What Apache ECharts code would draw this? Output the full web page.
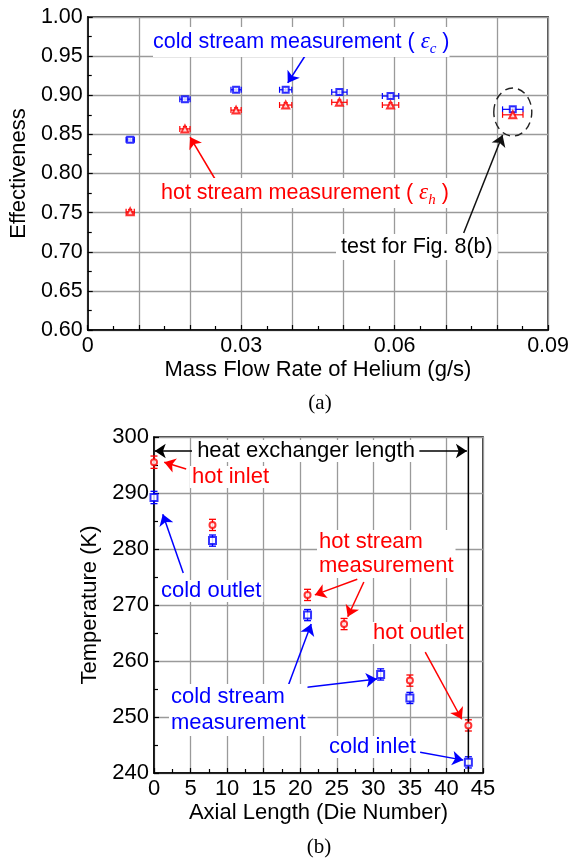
<!DOCTYPE html>
<html>
<head>
<meta charset="utf-8">
<script src="https://cdn.jsdelivr.net/npm/echarts@6/dist/echarts.min.js"></script>
<style>
  html, body { margin: 0; padding: 0; background: #fff; }
  #chart { width: 572px; height: 859px; }
</style>
</head>
<body>
<div id="chart"></div>
<script>
// ---- (a) effectiveness vs mass flow rate ----
const flowRate = [0.0083, 0.019, 0.029, 0.0387, 0.0492, 0.0592, 0.0831];
const flowErr = [0.0008, 0.001, 0.001, 0.0012, 0.0015, 0.0016, 0.002];
const effCold = [0.843, 0.895, 0.907, 0.907, 0.904, 0.899, 0.882];
const effHot = [0.751, 0.857, 0.881, 0.8875, 0.891, 0.8875, 0.875];
const effErr = [0.003, 0.003, 0.003, 0.003, 0.003, 0.003, 0.003];
const effTicks = [0.6, 1.0, 0.05];
const flowTicks = [0, 0.09, 0.01];

// ---- (b) temperature profile ----
const dieHot = [0, 8, 21, 26, 35, 43];
const tempHot = [295.5, 284.3, 271.8, 266.6, 256.5, 248.5];
const errHot = [1.1, 1.0, 1.0, 1.0, 1.0, 1.0];
const dieCold = [0, 8, 21, 31, 35, 43];
const tempCold = [289.2, 281.5, 268.2, 257.6, 253.4, 241.9];
const errCold = [1.1, 1.0, 1.0, 1.0, 1.0, 1.0];
const exchangerEnd = 43;
const tempTicks = [240, 300, 10];
const dieTicks = [0, 45, 5];

const BLUE = '#0000ff';
const RED = '#ff0000';
const SANS = 'Liberation Sans, Arial, sans-serif';
const SERIF = 'Liberation Serif, Times New Roman, serif';

const chart = echarts.init(document.getElementById('chart'));

function axisBase(fs) {
    return {
        type: 'value',
        axisLine: { show: true, onZero: false, lineStyle: { color: '#000', width: 1.5 } },
        axisTick: { show: true, inside: true, length: 5, lineStyle: { color: '#000', width: 1.2 } },
        minorTick: { show: true, splitNumber: 2, length: 4, lineStyle: { color: '#000', width: 1.2 } },
        splitLine: { show: true, lineStyle: { color: '#9a9a9a', width: 1.3 } },
        axisLabel: { color: '#000', fontSize: fs, fontFamily: SANS, margin: 5 },
        nameLocation: 'middle',
        nameTextStyle: { color: '#000', fontSize: 22, fontFamily: SANS }
    };
}

// error bars, horizontal + small vertical
function errorBarsA(params, api) {
    const x = api.value(0), y = api.value(1), dx = api.value(2), dy = api.value(3);
    const l = api.coord([x - dx, y]), r = api.coord([x + dx, y]);
    const b = api.coord([x, y - dy]), t = api.coord([x, y + dy]);
    const c = 3;
    const style = { stroke: api.visual('color'), lineWidth: 1.2, fill: null };
    return {
        type: 'group',
        children: [
            { type: 'line', shape: { x1: l[0], y1: l[1], x2: r[0], y2: r[1] }, style },
            { type: 'line', shape: { x1: l[0], y1: l[1] - c, x2: l[0], y2: l[1] + c }, style },
            { type: 'line', shape: { x1: r[0], y1: r[1] - c, x2: r[0], y2: r[1] + c }, style },
            { type: 'line', shape: { x1: b[0], y1: b[1], x2: t[0], y2: t[1] }, style },
            { type: 'line', shape: { x1: b[0] - 2, y1: b[1], x2: b[0] + 2, y2: b[1] }, style },
            { type: 'line', shape: { x1: t[0] - 2, y1: t[1], x2: t[0] + 2, y2: t[1] }, style }
        ]
    };
}

// vertical error bars with caps
function errorBarsB(params, api) {
    const x = api.value(0), y = api.value(1), dy = api.value(2);
    const b = api.coord([x, y - dy]), t = api.coord([x, y + dy]);
    const c = 3.5;
    const style = { stroke: api.visual('color'), lineWidth: 1.3, fill: null };
    return {
        type: 'group',
        children: [
            { type: 'line', shape: { x1: b[0], y1: b[1], x2: t[0], y2: t[1] }, style },
            { type: 'line', shape: { x1: b[0] - c, y1: b[1], x2: b[0] + c, y2: b[1] }, style },
            { type: 'line', shape: { x1: t[0] - c, y1: t[1], x2: t[0] + c, y2: t[1] }, style }
        ]
    };
}

function arrows(list, color) {
    return {
        silent: true,
        animation: false,
        symbol: ['none', 'arrow'],
        symbolSize: 11,
        label: { show: false },
        emphasis: { disabled: true },
        lineStyle: { type: 'solid', color: color, width: 1.5 },
        data: list.map(a => [{ coord: a[0] }, { coord: a[1] }])
    };
}

// annotation arrows, in data coordinates
const arrowsA = {
    blue: [[[0.0426, 0.9514], [0.0391, 0.9157]]],
    red: [[[0.0250, 0.7917], [0.0200, 0.8466]]],
    black: [[[0.0735, 0.7240], [0.0811, 0.8492]]]
};
const arrowsB = {
    black: [[[5.2, 297.5], [0.1, 297.5]], [[36.3, 297.5], [42.8, 297.5]]],
    red: [[[4.4, 294.3], [1.4, 295.5]], [[27.8, 274.6], [22.0, 271.8]],
          [[28.7, 274.1], [26.5, 267.9]], [[37.1, 261.6], [42.1, 249.6]]],
    blue: [[[4.0, 275.7], [1.2, 286.2]], [[18.3, 255.4], [21.5, 266.6]],
           [[18.9, 255.0], [30.5, 256.8]], [[36.4, 243.7], [42.3, 242.3]]]
};

const xA = Object.assign(axisBase(21.5), {
    gridIndex: 0, min: flowTicks[0], max: flowTicks[1], interval: flowTicks[2],
    name: 'Mass Flow Rate of Helium (g/s)', nameGap: 29
});
xA.axisLabel.formatter = v => {
    const k = Math.round(v * 100);
    if (k % 3 !== 0) return '';
    return k === 0 ? '0' : (k / 100).toFixed(2);
};
const yA = Object.assign(axisBase(21.5), {
    gridIndex: 0, min: effTicks[0], max: effTicks[1], interval: effTicks[2],
    name: 'Effectiveness', nameGap: 54
});
yA.axisLabel.formatter = v => v.toFixed(2);

const xB = Object.assign(axisBase(22), {
    gridIndex: 1, min: dieTicks[0], max: dieTicks[1], interval: dieTicks[2],
    name: 'Axial Length (Die Number)', nameGap: 29
});
const yB = Object.assign(axisBase(22), {
    gridIndex: 1, min: tempTicks[0], max: tempTicks[1], interval: tempTicks[2],
    name: 'Temperature (K)', nameGap: 50
});

function label(text, x, y, color, extra) {
    return {
        type: 'text', z: 100, x: x, y: y,
        style: Object.assign({
            text: text, fill: color, font: '22px ' + SANS,
            align: 'left', verticalAlign: 'middle',
            textAlign: 'left', textVerticalAlign: 'middle',
            backgroundColor: '#fff', padding: [0, 2]
        }, extra || {})
    };
}

function epsRich(color) {
    return {
        n: { fontSize: 21.5, fontFamily: SANS, color: color, lineHeight: 30 },
        e: { fontSize: 23, fontFamily: SERIF, fontStyle: 'italic', color: color, lineHeight: 30 },
        s: { fontSize: 15, fontFamily: SERIF, fontStyle: 'italic', color: color,
             verticalAlign: 'bottom', lineHeight: 30 }
    };
}

chart.setOption({
    animation: false,
    backgroundColor: '#fff',
    grid: [
        { left: 83, top: 17, width: 472, height: 313, show: true, borderColor: '#000', borderWidth: 1.5 },
        { left: 154, top: 437, width: 329, height: 336, show: true, borderColor: '#000', borderWidth: 1.5 }
    ],
    xAxis: [xA, xB],
    yAxis: [yA, yB],
    series: [
        {
            type: 'custom', xAxisIndex: 0, yAxisIndex: 0, z: 2,
            itemStyle: { color: BLUE }, renderItem: errorBarsA, clip: false,
            data: flowRate.map((x, i) => [x, effCold[i], flowErr[i], effErr[i]])
        },
        {
            type: 'custom', xAxisIndex: 0, yAxisIndex: 0, z: 2,
            itemStyle: { color: RED }, renderItem: errorBarsA, clip: false,
            data: flowRate.map((x, i) => [x, effHot[i], flowErr[i], effErr[i]])
        },
        {
            name: 'cold', type: 'scatter', xAxisIndex: 0, yAxisIndex: 0, z: 3,
            symbol: 'emptyRect', symbolSize: 6,
            itemStyle: { color: BLUE, borderWidth: 1.2 },
            data: flowRate.map((x, i) => [x, effCold[i]]),
            markLine: arrows(arrowsA.blue, BLUE)
        },
        {
            name: 'hot', type: 'scatter', xAxisIndex: 0, yAxisIndex: 0, z: 3,
            symbol: 'emptyTriangle', symbolSize: 7,
            itemStyle: { color: RED, borderWidth: 1.2 },
            data: flowRate.map((x, i) => [x, effHot[i]]),
            markLine: arrows(arrowsA.red, RED)
        },
        {
            // dashed ring round the point used for (b)
            type: 'custom', xAxisIndex: 0, yAxisIndex: 0, z: 4, silent: true,
            itemStyle: { color: '#222' },
            data: [[flowRate[6], (effCold[6] + effHot[6]) / 2]],
            renderItem: (params, api) => {
                const p = api.coord([api.value(0), api.value(1)]);
                return {
                    type: 'ellipse',
                    shape: { cx: p[0], cy: p[1], rx: 19, ry: 24 },
                    style: { stroke: '#222', fill: null, lineWidth: 1.4, lineDash: [8, 5] }
                };
            },
            markLine: arrows(arrowsA.black, '#111')
        },

        {
            type: 'custom', xAxisIndex: 1, yAxisIndex: 1, z: 2,
            itemStyle: { color: RED }, renderItem: errorBarsB, clip: false,
            data: dieHot.map((x, i) => [x, tempHot[i], errHot[i]])
        },
        {
            type: 'custom', xAxisIndex: 1, yAxisIndex: 1, z: 2,
            itemStyle: { color: BLUE }, renderItem: errorBarsB, clip: false,
            data: dieCold.map((x, i) => [x, tempCold[i], errCold[i]])
        },
        {
            name: 'hot T', type: 'scatter', xAxisIndex: 1, yAxisIndex: 1, z: 3,
            symbol: 'emptyCircle', symbolSize: 6, clip: false,
            itemStyle: { color: RED, borderWidth: 1.3 },
            data: dieHot.map((x, i) => [x, tempHot[i]]),
            markLine: arrows(arrowsB.red, RED)
        },
        {
            name: 'cold T', type: 'scatter', xAxisIndex: 1, yAxisIndex: 1, z: 3,
            symbol: 'emptyRect', symbolSize: 7, clip: false,
            itemStyle: { color: BLUE, borderWidth: 1.3 },
            data: dieCold.map((x, i) => [x, tempCold[i]]),
            markLine: arrows(arrowsB.blue, BLUE)
        },
        {
            // end of the heat exchanger
            type: 'line', xAxisIndex: 1, yAxisIndex: 1, z: 2, silent: true,
            symbol: 'none', lineStyle: { color: '#000', width: 1.5 },
            data: [[exchangerEnd, tempTicks[0]], [exchangerEnd, tempTicks[1]]],
            markLine: arrows(arrowsB.black, '#000')
        }
    ],
    graphic: [
        {
            type: 'text', z: 100, x: 153, y: 42,
            style: {
                text: '{n|cold stream measurement ( }{e|ε}{s|c}{n| )}',
                rich: epsRich(BLUE), fill: BLUE, backgroundColor: '#fff',
                align: 'left', verticalAlign: 'middle', textAlign: 'left', textVerticalAlign: 'middle'
            }
        },
        {
            type: 'text', z: 100, x: 161, y: 193,
            style: {
                text: '{n|hot stream measurement ( }{e|ε}{s|h}{n| )}',
                rich: epsRich(RED), fill: RED, backgroundColor: '#fff',
                align: 'left', verticalAlign: 'middle', textAlign: 'left', textVerticalAlign: 'middle'
            }
        },
        label('test for Fig. 8(b)', 336, 247, '#000', { font: '21.5px ' + SANS, padding: [2, 5] }),
        label('(a)', 320, 403, '#000', { font: '21px ' + SERIF, align: 'center', textAlign: 'center' }),

        label('heat exchanger length', 306, 451, '#000', { align: 'center', textAlign: 'center', padding: [0, 3] }),
        label('hot inlet', 190, 477, RED),
        label('cold outlet', 159, 591, BLUE),
        label('hot stream\nmeasurement', 317, 554, RED, { lineHeight: 24 }),
        label('hot outlet', 371, 633, RED),
        label('cold stream\nmeasurement', 169, 710, BLUE, { lineHeight: 26 }),
        label('cold inlet', 327, 747, BLUE),
        label('(b)', 319, 847, '#000', { font: '21px ' + SERIF, align: 'center', textAlign: 'center' })
    ]
});
</script>
</body>
</html>
